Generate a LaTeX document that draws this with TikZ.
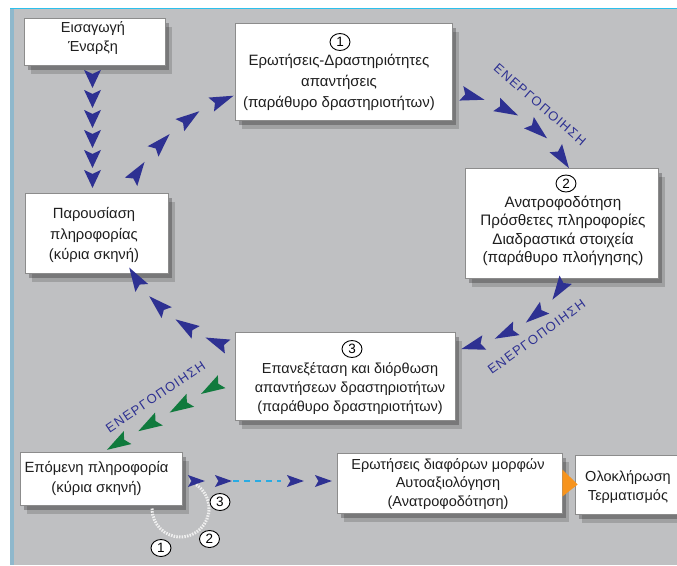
\documentclass[tikz,border=0pt]{standalone}
\usepackage{fontspec}
\setmainfont{Liberation Sans}
\newfontfamily\actfont[LetterSpace=10]{Liberation Sans}
\usetikzlibrary{shadows,shapes.geometric,decorations.markings}
\definecolor{bgC}{HTML}{BFC0C2}
\definecolor{navyC}{HTML}{2E3192}
\definecolor{greenC}{HTML}{107A3D}
\definecolor{cyanC}{HTML}{29ABE2}
\definecolor{orangeC}{HTML}{F7941D}
\definecolor{bandC}{HTML}{8FB8CC}
\definecolor{topC}{HTML}{2CC0EC}
\definecolor{txtC}{HTML}{1E1E1E}
\definecolor{borderC}{HTML}{8C8C8C}
\newcommand\triV{\fill[navyC] (9pt,0pt) -- (-9pt,8.5pt) -- (-5pt,0pt) -- (-9pt,-8.5pt) -- cycle;}
\newcommand\triC{\fill[navyC] (12pt,0pt) -- (-12pt,7.5pt) -- (-8pt,0pt) -- (-12pt,-7.5pt) -- cycle;}
\newcommand\triG{\fill[greenC] (12pt,0pt) -- (-12pt,7.5pt) -- (-8pt,0pt) -- (-12pt,-7.5pt) -- cycle;}
\newcommand\triH{\fill[navyC] (8.5pt,0pt) -- (-8.5pt,6pt) -- (-5pt,0pt) -- (-8.5pt,-6pt) -- cycle;}
\begin{document}
\begin{tikzpicture}[x=1pt,y=-1pt,
  box/.style={draw=borderC, line width=0.8pt, fill=white, inner sep=0pt,
    drop shadow={shadow xshift=4pt, shadow yshift=-5pt, opacity=0.25, fill=black},
    drop shadow={shadow xshift=7pt, shadow yshift=-9pt, opacity=0.16, fill=black}},
  txt/.style={align=center, text=txtC, inner sep=0pt, font=\fontsize{14.5}{19}\selectfont},
  num/.style={ellipse, draw=black, line width=0.9pt, minimum width=20pt, minimum height=17pt, inner sep=0pt, text=black, font=\fontsize{13.5}{13.5}\selectfont},
  bnum/.style={num, fill=white},
  act/.style={text=navyC, inner sep=0pt, font=\actfont\fontsize{13}{13}\selectfont},
  chainV/.style={decoration={markings, mark=between positions 13.5pt and 115pt step 20pt with {\triV}}, postaction={decorate}},
  chainA/.style={decoration={markings, mark=between positions 23pt and 140pt step 37.5pt with {\triC}}, postaction={decorate}},
  chainB/.style={decoration={markings, mark=between positions 21pt and 135pt step 37pt with {\triC}}, postaction={decorate}},
  chainC/.style={decoration={markings, mark=between positions 13pt and 120pt step 35pt with {\triC}}, postaction={decorate}},
  chainD/.style={decoration={markings, mark=between positions 19pt and 125pt step 35pt with {\triC}}, postaction={decorate}},
  chainG/.style={decoration={markings, mark=between positions 27pt and 140pt step 36.5pt with {\triG}}, postaction={decorate}},
  chainH/.style={decoration={markings, mark=at position 14pt with {\triH}, mark=at position 41pt with {\triH}, mark=at position 113pt with {\triH}, mark=at position 141pt with {\triH}}, postaction={decorate}},
]
\useasboundingbox (0,0) rectangle (677,565);
\clip (0,0) rectangle (677,565);
% background
\fill[white] (0,0) rectangle (677,565);
\fill[bgC] (13,9) rectangle (677,565);
\fill[bandC] (10,9) rectangle (13.5,565);
\draw[topC, line width=1.5pt] (10,8.5) -- (677,8.5);

% boxes (shapes)
\node[box, minimum width=141pt, minimum height=47pt] (A) at (94.5,41.5) {};
\node[box, minimum width=217pt, minimum height=97pt] (B1) at (343.5,71.5) {};
\node[box, minimum width=193pt, minimum height=110pt] (B2) at (561.5,223) {};
\node[box, minimum width=143pt, minimum height=80pt] (P) at (96.5,233) {};
\node[box, minimum width=220pt, minimum height=88pt] (B3) at (345,376) {};
\node[box, minimum width=162pt, minimum height=53pt] (E) at (101,478.5) {};
\node[box, minimum width=225pt, minimum height=60pt] (Q) at (449.5,483) {};
\node[box, minimum width=115pt, minimum height=59pt] (O) at (632.5,484.5) {};

% connectors
\path[chainV] ([xshift=-2pt]A.south) -- ([xshift=-4pt]P.north);
\path[chainA] ([xshift=29.5pt,yshift=1pt]P.north) .. controls (145,155) and (185,110) .. ([yshift=-24.5pt]B1.west);
\path[chainB] ([yshift=-20.5pt]B1.east) .. controls (500,100) and (545,125) .. ([xshift=6.5pt]B2.north);
\path[chainC] ([xshift=4pt]B2.south) .. controls (548,315) and (505,340) .. ([yshift=26pt]B3.east);
\path[chainD] ([yshift=28pt]B3.west) .. controls (195,338) and (150,305) .. ([xshift=36.5pt]P.south);
\path[chainG] ([yshift=2pt]B3.west) -- ([xshift=3pt]E.north);
\path[chainH] ([yshift=-2.5pt]E.east) -- ([yshift=2pt]Q.west);
\draw[cyanC, line width=2.5pt, dash pattern=on 6pt off 5pt, shorten <=51pt, shorten >=56pt] ([yshift=-2.5pt]E.east) -- ([yshift=2pt]Q.west);
\fill[orangeC] ([yshift=13.5pt]Q.east) -- ([yshift=-13.5pt]Q.east) -- ([xshift=3pt]O.west) -- cycle;

% white dotted arc
\draw[white!88!gray, line width=3pt, dash pattern=on 1.5pt off 1.2pt] (152,508.5) arc[start angle=180, end angle=-58, radius=28.5];

% texts
\node[txt, font=\fontsize{14.5}{19}\selectfont] (At) at (93,38.5) {Εισαγωγή\\Έναρξη};
\node[txt, font=\fontsize{15}{21}\selectfont] (B1t) at (339,82) {Ερωτήσεις-Δραστηριότητες\\απαντήσεις\\(παράθυρο δραστηριοτήτων)};
\node[txt, font=\fontsize{15.2}{18.5}\selectfont] (B2t) at (563,231) {Ανατροφοδότηση\\Πρόσθετες πληροφορίες\\Διαδραστικά στοιχεία\\(παράθυρο πλοήγησης)};
\node[txt, font=\fontsize{14.8}{20.5}\selectfont] (Pt) at (94,235) {Παρουσίαση\\πληροφορίας\\(κύρια σκηνή)};
\node[txt, font=\fontsize{14.5}{19}\selectfont] (B3t) at (350,389) {Επανεξέταση και διόρθωση\\απαντήσεων δραστηριοτήτων\\(παράθυρο δραστηριοτήτων)};
\node[txt, font=\fontsize{14.8}{20}\selectfont] (Et) at (96.5,478) {Επόμενη πληροφορία\\(κύρια σκηνή)};
\node[txt, font=\fontsize{14.5}{18.5}\selectfont] (Qt) at (448,484) {Ερωτήσεις διαφόρων μορφών\\Αυτοαξιολόγηση\\(Ανατροφοδότηση)};
\node[txt, font=\fontsize{14.5}{19}\selectfont] (Ot) at (628,487) {Ολοκλήρωση\\Τερματισμός};

% numbers
\node[num] (n1) at (340,42) {1};
\node[num] (n2) at (566,183.5) {2};
\node[num] (n3) at (352,349) {3};
\node[bnum] (m1) at (161,548) {1};
\node[bnum] (m2) at (209.5,539) {2};
\node[bnum] (m3) at (220,502) {3};

% labels
\node[act, rotate=-41] (L1) at (540,104.5) {ΕΝΕΡΓΟΠΟΙΗΣΗ};
\node[act, rotate=36] (L2) at (536.5,337) {ΕΝΕΡΓΟΠΟΙΗΣΗ};
\node[act, rotate=34] (L3) at (155.5,397) {ΕΝΕΡΓΟΠΟΙΗΣΗ};
\end{tikzpicture}
\end{document}
